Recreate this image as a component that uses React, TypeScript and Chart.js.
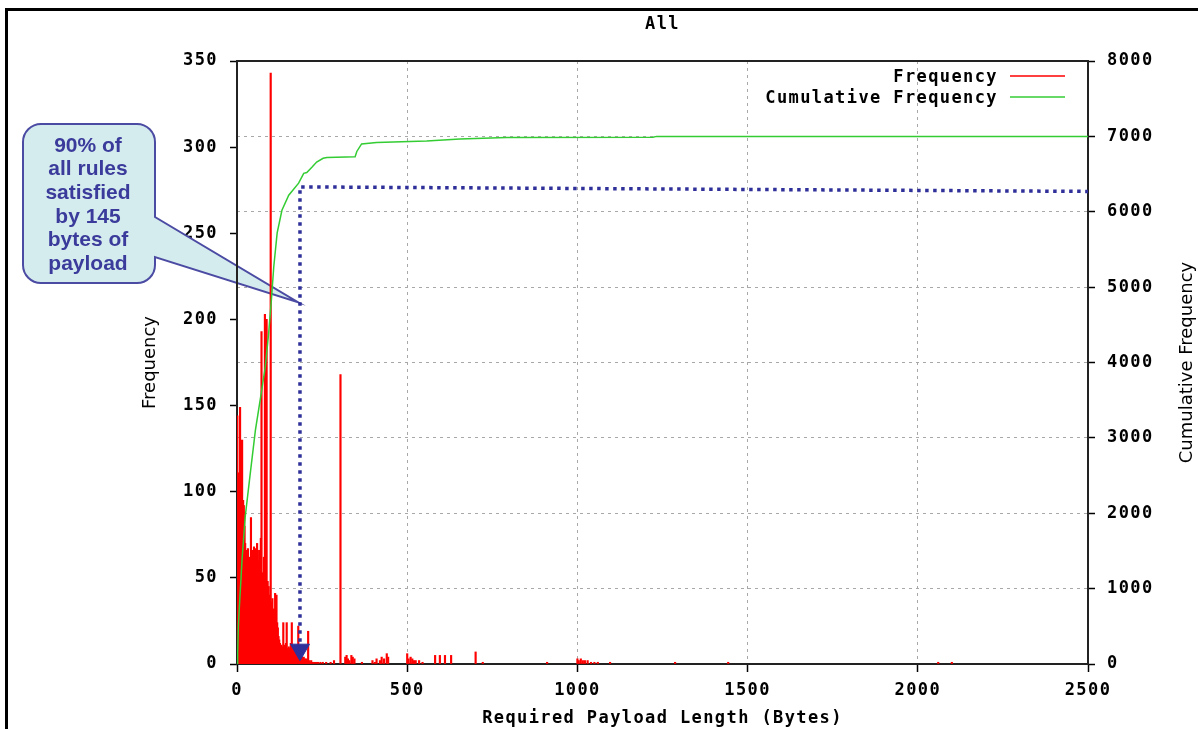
import React, { useEffect, useRef } from 'react';
import { Chart, registerables } from 'chart.js';

Chart.register(...registerables);

// ---------- data ----------
const chartTitle = 'All';
const xTitle = 'Required Payload Length (Bytes)';
const yTitle = 'Frequency';
const y2Title = 'Cumulative Frequency';
const legendLabels = ['Frequency', 'Cumulative Frequency'];
const calloutLines = ['90% of', 'all rules', 'satisfied', 'by 145', 'bytes of', 'payload'];

const xTickValues = [0, 500, 1000, 1500, 2000, 2500];
const yTickValues = [0, 50, 100, 150, 200, 250, 300, 350];
const y2TickValues = [0, 1000, 2000, 3000, 4000, 5000, 6000, 7000, 8000];

// Frequency impulses (payload length in bytes, count)
const freqBytes = [
  0, 1, 2, 3, 4, 5, 6, 7, 8, 9, 10, 11, 12, 13, 14, 15, 16, 17, 18, 19, 20, 21, 22,
  23, 24, 26, 27, 28, 30, 32, 33, 35, 36, 38, 40, 41, 42, 44, 46, 47, 49, 50, 52, 53, 55, 56, 58, 59,
  61, 62, 64, 65, 67, 68, 70, 72, 74, 76, 78, 79, 81, 82, 84, 85, 87, 89, 90, 92, 93, 95, 96, 98, 99,
  101, 102, 104, 106, 108, 110, 112, 114, 116, 118, 120, 122, 124, 126, 128, 130, 132, 134, 136, 138,
  140, 142, 144, 146, 148, 150, 152, 154, 156, 158, 160, 161, 163, 165, 167, 169, 171, 173, 175, 177,
  180, 182, 184, 186, 188, 190, 192, 194, 196, 198, 200, 202, 204, 206, 209, 212, 215, 218, 222, 226,
  232, 238, 245, 252, 262, 275, 285, 304, 318, 322, 326, 330, 336, 340, 345, 367, 398, 405, 410, 420,
  425, 432, 440, 444, 500, 504, 510, 515, 520, 525, 535, 545, 582, 596, 611, 629, 701, 722, 911,
  1000, 1004, 1010, 1016, 1022, 1030, 1040, 1050, 1060, 1096, 1287, 1443, 2060, 2100,
];
const freqCounts = [
  105, 144, 98, 111, 104, 100, 96, 108, 99, 149, 97, 95, 100, 92, 96, 130, 94, 90, 95, 88, 92, 85, 80,
  60, 70, 45, 66, 42, 58, 67, 40, 62, 42, 55, 44, 85, 40, 66, 42, 58, 40, 68, 44, 67, 40, 62, 45, 70,
  42, 60, 38, 66, 40, 55, 73, 193, 42, 53, 40, 62, 38, 203, 40, 58, 200, 38, 48, 36, 45, 34, 40, 32, 343,
  36, 30, 38, 28, 32, 26, 41, 28, 40, 24, 21, 16, 14, 12, 10, 11, 9, 10, 24, 9,
  11, 8, 12, 24, 9, 8, 10, 9, 8, 12, 9, 24, 8, 9, 7, 10, 8, 7, 9, 6,
  22, 5, 6, 4, 5, 3, 4, 3, 4, 2, 3, 2, 3, 2, 19, 2, 1, 2, 1, 1,
  1, 1, 1, 1, 1, 1, 2, 168, 4, 5, 3, 2, 5, 4, 3, 1, 2, 1, 3, 2,
  4, 3, 6, 4, 6, 3, 4, 3, 2, 2, 2, 1, 5, 5, 5, 5, 7, 1, 1,
  3, 2, 3, 2, 2, 2, 1, 1, 1, 1, 1, 1, 1, 1,
];

// Cumulative frequency curve
const cumBytes = [
  0, 2, 4, 8, 12, 15, 20, 24, 39, 54, 68, 83, 93, 101, 108, 118, 132, 152, 181, 196, 205, 220, 234,
  253, 264, 347, 352, 366, 410, 557, 655, 792, 1222, 1233, 2500,
];
const cumCounts = [
  0, 150, 500, 850, 1150, 1400, 1700, 1950, 2530, 3100, 3500, 3940, 4390, 4830, 5270, 5720, 6020, 6220,
  6380, 6510, 6520, 6590, 6660, 6710, 6720, 6730, 6800, 6900, 6920, 6940, 6965, 6985, 6990, 7000, 7000,
];

// 90% marker (dotted guide with arrow) on cumulative axis
const markerBytes = [185, 185, 2500];
const markerCum = [190, 6330, 6270];

// callout pointer tip (bytes, cumulative)
const calloutTipByte = 179;
const calloutTipCum = 4800;

const RED = '#ff0000';
const GREEN = '#33cc33';
const NAVY = '#30309a';
const MONO = '"DejaVu Sans Mono", "Liberation Mono", monospace';

const decorPlugin = {
  id: 'gnuplotDecor',
  beforeDraw(chart: any) {
    chart.ctx.letterSpacing = '1.4px';
  },
  beforeDatasetsDraw(chart: any) {
    const { ctx, chartArea: a, scales } = chart;
    // callout balloon
    const tipX = scales.x.getPixelForValue(calloutTipByte);
    const tipY = scales.y2.getPixelForValue(calloutTipCum);
    const L = 23, T = 124, R = 155, B = 283, r = 18, p1 = 217, p2 = 257;
    ctx.save();
    ctx.beginPath();
    ctx.moveTo(L + r, T);
    ctx.lineTo(R - r, T);
    ctx.arcTo(R, T, R, T + r, r);
    ctx.lineTo(R, p1);
    ctx.lineTo(tipX, tipY);
    ctx.lineTo(R, p2);
    ctx.lineTo(R, B - r);
    ctx.arcTo(R, B, R - r, B, r);
    ctx.lineTo(L + r, B);
    ctx.arcTo(L, B, L, B - r, r);
    ctx.lineTo(L, T + r);
    ctx.arcTo(L, T, L + r, T, r);
    ctx.closePath();
    ctx.fillStyle = '#d5ecee';
    ctx.fill();
    ctx.strokeStyle = '#4b4ba3';
    ctx.lineWidth = 2;
    ctx.stroke();
    ctx.letterSpacing = '0px';
    ctx.fillStyle = '#3b3b9b';
    ctx.font = 'bold 21px "Liberation Sans", Arial, sans-serif';
    ctx.textAlign = 'center';
    ctx.textBaseline = 'middle';
    calloutLines.forEach((line, i) => {
      ctx.fillText(line, 88, 146 + i * 23.6);
    });
    ctx.restore();

    // plot frame
    ctx.save();
    ctx.strokeStyle = '#222';
    ctx.lineWidth = 2;
    ctx.strokeRect(a.left, a.top, a.right - a.left, a.bottom - a.top);
    ctx.restore();
  },
  afterDraw(chart: any) {
    const { ctx, chartArea: a } = chart;
    const cx = (a.left + a.right) / 2;
    const cy = (a.top + a.bottom) / 2;
    ctx.save();
    ctx.fillStyle = '#000';
    ctx.textBaseline = 'middle';
    ctx.letterSpacing = '1.4px';
    ctx.font = `bold 17px ${MONO}`;
    ctx.textAlign = 'center';
    ctx.fillText(chartTitle, cx, 25);
    ctx.fillText(xTitle, cx, 719);

    // legend
    ctx.textAlign = 'right';
    ctx.fillText(legendLabels[0], 998, 78);
    ctx.fillText(legendLabels[1], 998, 99);
    ctx.lineWidth = 1.5;
    ctx.strokeStyle = RED;
    ctx.beginPath();
    ctx.moveTo(1010, 76);
    ctx.lineTo(1065, 76);
    ctx.stroke();
    ctx.strokeStyle = GREEN;
    ctx.beginPath();
    ctx.moveTo(1010, 97);
    ctx.lineTo(1065, 97);
    ctx.stroke();

    // rotated axis titles
    ctx.letterSpacing = '0px';
    ctx.font = '18px "DejaVu Sans", sans-serif';
    ctx.textAlign = 'center';
    ctx.save();
    ctx.translate(150, cy);
    ctx.rotate(-Math.PI / 2);
    ctx.fillText(yTitle, 0, 0);
    ctx.restore();
    ctx.save();
    ctx.translate(1187, cy);
    ctx.rotate(-Math.PI / 2);
    ctx.fillText(y2Title, 0, 0);
    ctx.restore();
    ctx.restore();
  },
};

export default function App() {
  const canvasRef = useRef<HTMLCanvasElement | null>(null);

  useEffect(() => {
    const canvas = canvasRef.current;
    if (!canvas) return;
    const tickFont = { family: MONO, size: 17, weight: 'bold' as const };

    const chart = new Chart(canvas, {
      type: 'line',
      data: {
        datasets: [
          {
            type: 'line',
            label: '90% marker',
            data: markerBytes.map((b, i) => ({ x: b, y: markerCum[i] })),
            xAxisID: 'x',
            yAxisID: 'y2',
            borderColor: NAVY,
            backgroundColor: NAVY,
            borderWidth: 3.5,
            borderDash: [3.5, 4.5],
            pointRadius: [11, 0, 0],
            pointStyle: 'triangle',
            pointRotation: 180,
            pointBackgroundColor: NAVY,
            pointBorderColor: NAVY,
            pointBorderWidth: 1,
            tension: 0,
            fill: false,
            order: 0,
          } as any,
          {
            type: 'line',
            label: legendLabels[1],
            data: cumBytes.map((b, i) => ({ x: b, y: cumCounts[i] })),
            xAxisID: 'x',
            yAxisID: 'y2',
            borderColor: GREEN,
            borderWidth: 1.5,
            pointRadius: 0,
            tension: 0,
            fill: false,
            order: 1,
          } as any,
          {
            type: 'bar',
            label: legendLabels[0],
            data: freqBytes.map((b, i) => ({ x: b, y: freqCounts[i] })),
            xAxisID: 'x',
            yAxisID: 'y',
            backgroundColor: RED,
            borderWidth: 0,
            barThickness: 1.5,
            grouped: false,
            order: 2,
          } as any,
        ],
      },
      options: {
        responsive: false,
        animation: false,
        devicePixelRatio: 1,
        events: [],
        layout: { padding: { top: 61, bottom: 25, left: 0, right: 0 } },
        plugins: {
          legend: { display: false },
          title: { display: false },
          tooltip: { enabled: false },
        },
        scales: {
          x: {
            type: 'linear',
            position: 'bottom',
            min: 0,
            max: 2500,
            offset: false,
            afterBuildTicks: (s: any) => {
              s.ticks = xTickValues.map((v) => ({ value: v }));
            },
            afterFit: (s: any) => {
              s.height = 40;
            },
            ticks: {
              font: tickFont,
              color: '#000',
              padding: 8,
              maxRotation: 0,
              autoSkip: false,
              callback: (v: any) => String(v),
            },
            grid: {
              offset: false,
              color: '#a8a8a8',
              lineWidth: 1,
              drawTicks: true,
              tickLength: 8,
              tickColor: '#000',
              tickWidth: 1.5,
            },
            border: { display: false, dash: [3, 4] },
          },
          y: {
            type: 'linear',
            position: 'left',
            min: 0,
            max: 350,
            afterBuildTicks: (s: any) => {
              s.ticks = yTickValues.map((v) => ({ value: v }));
            },
            afterFit: (s: any) => {
              s.width = 237;
            },
            ticks: {
              font: tickFont,
              color: '#000',
              padding: 12,
              callback: (v: any) => String(v),
            },
            grid: {
              drawOnChartArea: false,
              drawTicks: true,
              tickLength: 7,
              tickColor: '#000',
              tickWidth: 1.5,
            },
            border: { display: false },
          },
          y2: {
            type: 'linear',
            position: 'right',
            min: 0,
            max: 8000,
            afterBuildTicks: (s: any) => {
              s.ticks = y2TickValues.map((v) => ({ value: v }));
            },
            afterFit: (s: any) => {
              s.width = 110;
            },
            ticks: {
              font: tickFont,
              color: '#000',
              padding: 12,
              callback: (v: any) => String(v),
            },
            grid: {
              drawOnChartArea: true,
              color: '#a8a8a8',
              lineWidth: 1,
              drawTicks: true,
              tickLength: 7,
              tickColor: '#000',
              tickWidth: 1.5,
            },
            border: { display: false, dash: [3, 4] },
          },
        },
      } as any,
      plugins: [decorPlugin],
    });

    return () => {
      chart.destroy();
    };
  }, []);

  return (
    <div>
      <div
        style={{
          position: 'fixed',
          left: 5,
          top: 8,
          width: 1300,
          height: 800,
          border: '3px solid #000',
          boxSizing: 'border-box',
          background: '#fff',
        }}
      />
      <div style={{ position: 'fixed', left: 0, top: 0, width: 1198, height: 729 }}>
        <canvas ref={canvasRef} width={1198} height={729} style={{ display: 'block', width: 1198, height: 729 }} />
      </div>
    </div>
  );
}
